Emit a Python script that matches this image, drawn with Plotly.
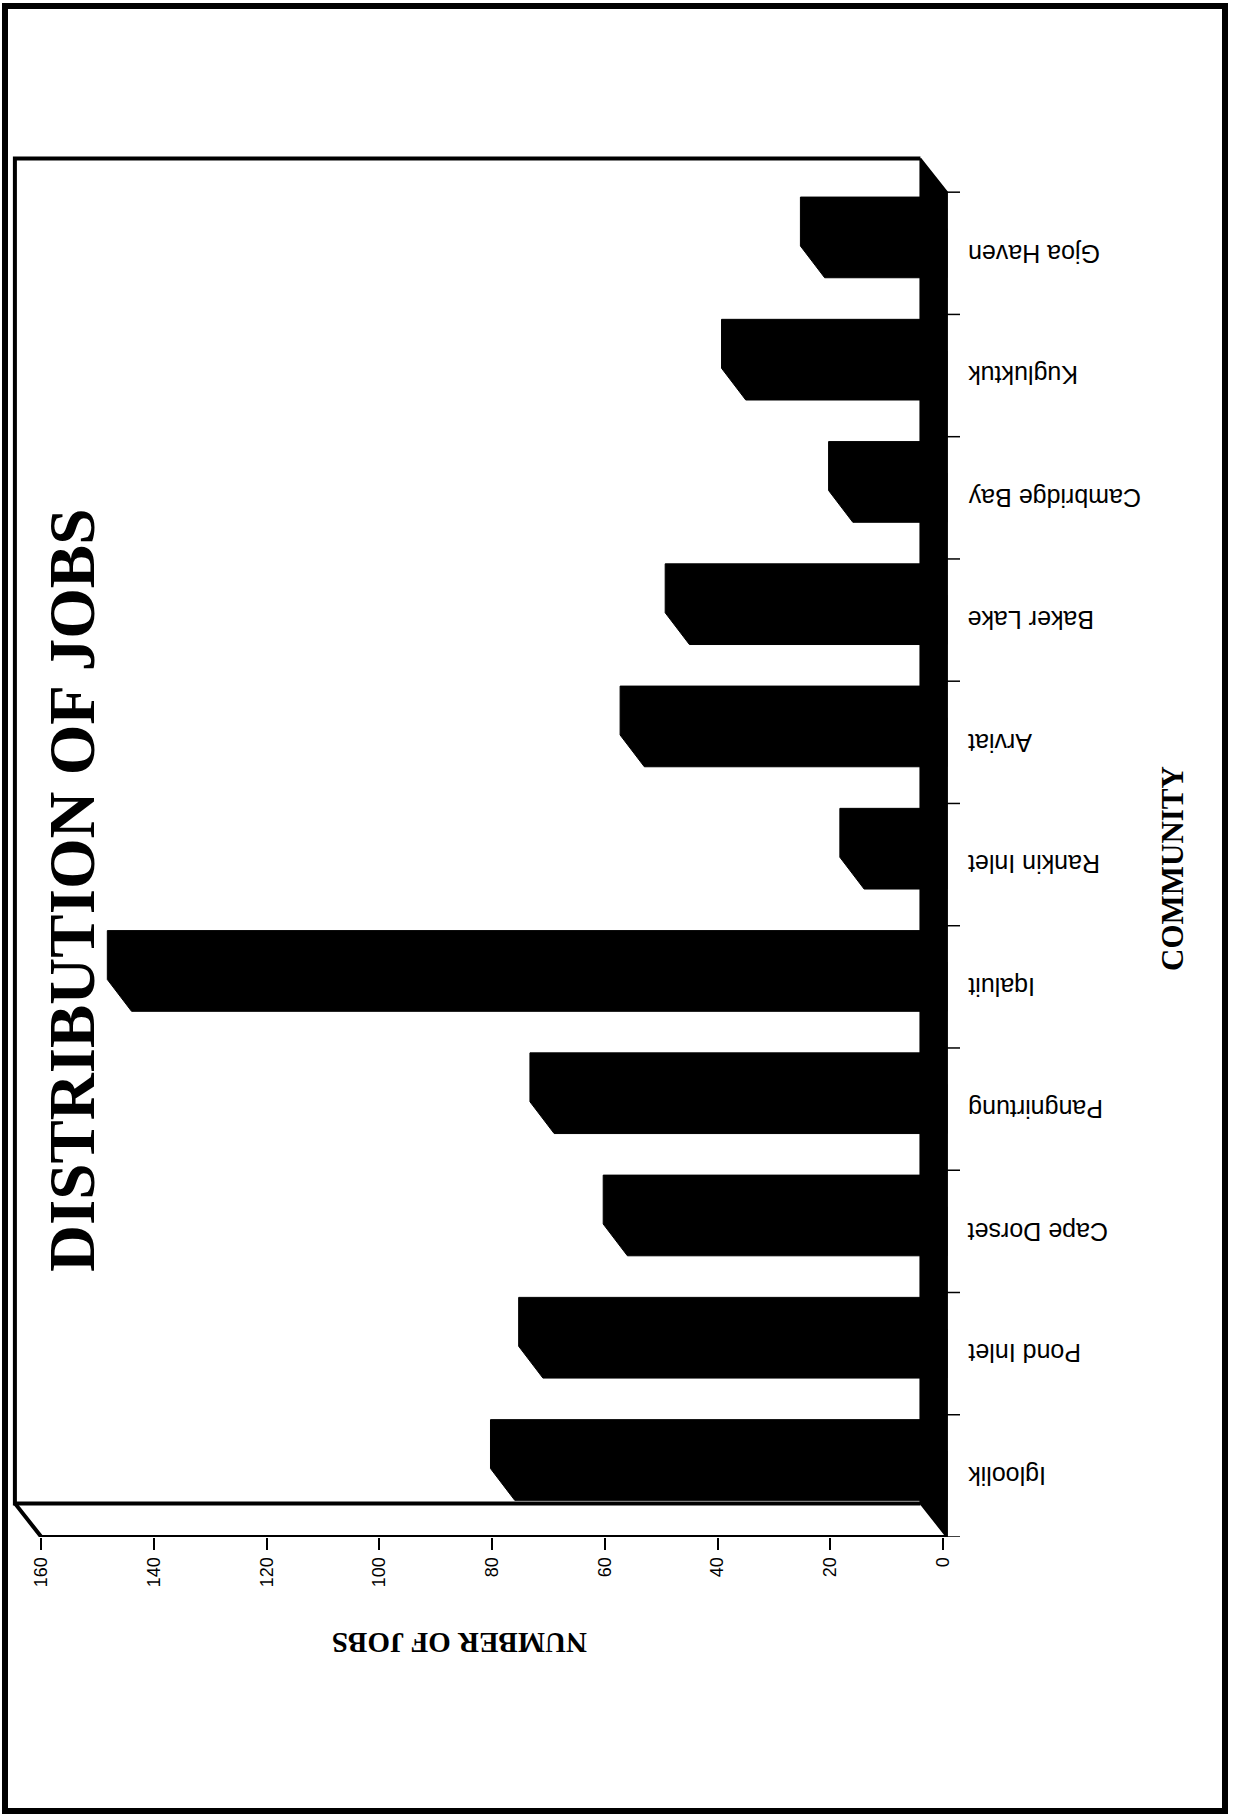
import plotly.graph_objects as go

# ---- data -------------------------------------------------------------
communities = ["Igloolik", "Pond Inlet", "Cape Dorset", "Pangnirtung", "Iqaluit",
               "Rankin Inlet", "Arviat", "Baker Lake", "Cambridge Bay",
               "Kugluktuk", "Gjoa Haven"]
jobs = [76, 71, 56, 69, 144, 14, 53, 45, 16, 35, 21]
value_ticks = [0, 20, 40, 60, 80, 100, 120, 140, 160]

title_text = "DISTRIBUTION OF JOBS"
value_title = "NUMBER OF JOBS"
category_title = "COMMUNITY"

# ---- geometry (page is laid out sideways: value axis runs right-to-left) ----
W, H = 1235, 1818
PLOT_L, PLOT_R, PLOT_T, PLOT_B = 10, 960, 150, 1537
X_RANGE = [165.57, -3.02]
Y_RANGE = [-0.5, 10.845]

VMAX = value_ticks[-1]
FLOOR_V = -0.7          # front edge of the floor slab
DEPTH_V = 4.7           # 3-D depth offset along the value axis
DEPTH_C = 0.275         # 3-D depth offset along the category axis
BAR_HALF = 0.2          # half thickness of a bar's front face
BAR_DV, BAR_DC = 4.3, 0.26
N = len(communities)
C_LO, C_HI = -0.5, N - 0.5


def paper_x(px):
    return (px - PLOT_L) / (PLOT_R - PLOT_L)


def paper_y(py):
    return (PLOT_B - py) / (PLOT_B - PLOT_T)


def cat_paper_y(c):
    # category coordinate -> paper fraction
    return (c - Y_RANGE[0]) / (Y_RANGE[1] - Y_RANGE[0])


fig = go.Figure()

# back wall and side wall outlines
wall_x = [FLOOR_V + DEPTH_V, VMAX + DEPTH_V, VMAX + DEPTH_V, FLOOR_V + DEPTH_V, None,
          VMAX + DEPTH_V, VMAX, FLOOR_V]
wall_y = [C_HI + DEPTH_C, C_HI + DEPTH_C, C_LO + DEPTH_C, C_LO + DEPTH_C, None,
          C_LO + DEPTH_C, C_LO, C_LO]
fig.add_trace(go.Scatter(x=wall_x, y=wall_y, mode="lines",
                         line=dict(color="black", width=4),
                         hoverinfo="skip", showlegend=False))

# 3-D bars: front face + top face + back face drawn as one solid silhouette
bx, by = [], []
for i, v in enumerate(jobs):
    lo, hi = i - BAR_HALF, i + BAR_HALF
    bx += [FLOOR_V, v, v + BAR_DV, v + BAR_DV, FLOOR_V + BAR_DV, FLOOR_V, FLOOR_V, None]
    by += [lo, lo, lo + BAR_DC, hi + BAR_DC, hi + BAR_DC, hi, lo, None]
fig.add_trace(go.Scatter(x=bx, y=by, mode="lines", fill="toself",
                         fillcolor="black", line=dict(color="black", width=1),
                         hoverinfo="skip", showlegend=False))

# floor slab
fig.add_trace(go.Scatter(
    x=[FLOOR_V, FLOOR_V, FLOOR_V + DEPTH_V, FLOOR_V + DEPTH_V, FLOOR_V],
    y=[C_LO, C_HI, C_HI + DEPTH_C, C_LO + DEPTH_C, C_LO],
    mode="lines", fill="toself", fillcolor="black",
    line=dict(color="black", width=2), hoverinfo="skip", showlegend=False))

shapes = []
# category tick marks between communities
for k in range(N + 1):
    shapes.append(dict(type="line", xref="x", yref="y",
                       x0=FLOOR_V, x1=FLOOR_V - 2.4, y0=C_LO + k, y1=C_LO + k,
                       line=dict(color="black", width=1.5)))
# outer page frame
shapes.append(dict(type="rect", xref="paper", yref="paper",
                   x0=paper_x(5), x1=paper_x(1225), y0=paper_y(6), y1=paper_y(1811),
                   line=dict(color="black", width=6), fillcolor="rgba(0,0,0,0)"))

annotations = []
for i, name in enumerate(communities):
    annotations.append(dict(text=name, xref="paper", yref="paper",
                            x=paper_x(966), y=cat_paper_y(i),
                            xanchor="left", yanchor="middle", textangle=180,
                            showarrow=False,
                            font=dict(family="Liberation Sans, Arial", size=25,
                                      color="black")))
annotations.append(dict(text=title_text, xref="paper", yref="paper",
                        x=paper_x(72), y=paper_y(891), textangle=-90,
                        showarrow=False, xanchor="center", yanchor="middle",
                        font=dict(family="Liberation Serif, Times New Roman",
                                  size=65, color="black", weight="bold")))
annotations.append(dict(text=value_title, xref="paper", yref="paper",
                        x=paper_x(460), y=paper_y(1643), textangle=180,
                        showarrow=False, xanchor="center", yanchor="middle",
                        font=dict(family="Liberation Serif, Times New Roman",
                                  size=29, color="black", weight="bold")))
annotations.append(dict(text=category_title, xref="paper", yref="paper",
                        x=paper_x(1172), y=paper_y(869), textangle=-90,
                        showarrow=False, xanchor="center", yanchor="middle",
                        font=dict(family="Liberation Serif, Times New Roman",
                                  size=31, color="black", weight="bold")))

fig.update_layout(
    width=W, height=H, autosize=False,
    margin=dict(l=PLOT_L, r=W - PLOT_R, t=PLOT_T, b=H - PLOT_B, pad=0),
    paper_bgcolor="white", plot_bgcolor="white",
    shapes=shapes, annotations=annotations, showlegend=False,
    xaxis=dict(range=X_RANGE, tickvals=value_ticks,
               ticktext=[str(t) for t in value_ticks],
               tickangle=-90, ticks="outside", ticklen=12, tickwidth=1.5,
               tickcolor="black", showgrid=False, zeroline=False,
               showline=False,
               tickfont=dict(family="Liberation Sans, Arial", size=18,
                             color="black")),
    yaxis=dict(range=Y_RANGE, showticklabels=False, ticks="", showgrid=False,
               zeroline=False, showline=False),
)

fig.write_html("out.html")
